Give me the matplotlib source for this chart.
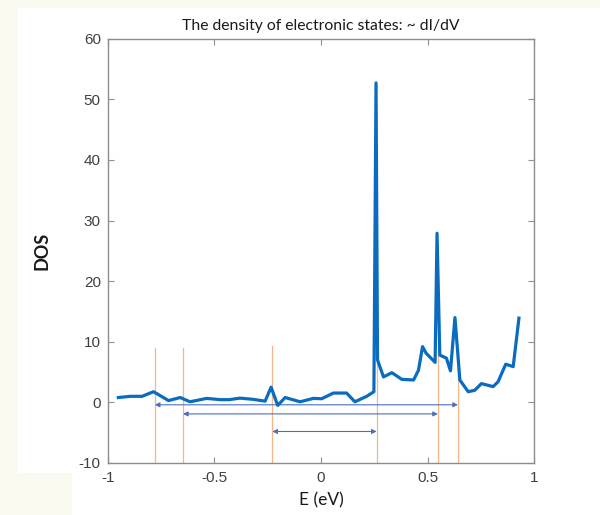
import numpy as np
import matplotlib
matplotlib.use('Agg')
import matplotlib.pyplot as plt
from matplotlib.patches import Rectangle

plt.rcParams['axes.unicode_minus'] = False

# DOS curve (energy in eV, density of states)
energy = [-0.950, -0.894, -0.839, -0.785, -0.715, -0.660, -0.614, -0.536, -0.473, -0.430,
          -0.380, -0.317, -0.262, -0.234, -0.203, -0.168, -0.098, -0.036, 0.003, 0.058,
          0.120, 0.159, 0.214, 0.248, 0.258, 0.265, 0.293, 0.332, 0.379, 0.434,
          0.457, 0.476, 0.493, 0.535, 0.544, 0.557, 0.588, 0.607, 0.628, 0.651,
          0.690, 0.721, 0.752, 0.807, 0.830, 0.866, 0.901, 0.928]
dos = [0.8, 1.0, 1.0, 1.76, 0.3, 0.8, 0.1, 0.66, 0.45, 0.45,
       0.7, 0.5, 0.2, 2.5, -0.5, 0.8, 0.1, 0.66, 0.6, 1.54,
       1.54, 0.1, 1.0, 1.76, 52.7, 7.0, 4.2, 4.9, 3.8, 3.7,
       5.3, 9.2, 8.1, 6.6, 27.9, 7.8, 7.3, 5.2, 14.0, 3.7,
       1.76, 2.0, 3.1, 2.6, 3.4, 6.3, 5.9, 13.9]

# orange markers at the peak energies, and gap arrows between them
marker_e = [-0.779, -0.647, -0.228, 0.261, 0.548, 0.642]
marker_top = [9.0, 9.0, 9.3, 9.0, 9.0, 9.0]
gap_left = [-0.779, -0.647, -0.228]
gap_right = [0.642, 0.548, 0.261]
gap_y = [-0.4, -1.9, -4.8]

fig = plt.figure(figsize=(6, 5.15), dpi=100, facecolor='#fbfaf0')
# white panel behind the plot
fig.patches.append(Rectangle((18/600, 42/515), 1, 465/515, transform=fig.transFigure,
                             facecolor='white', edgecolor='none', zorder=-1))
fig.patches.append(Rectangle((72/600, 0), 1, 43/515, transform=fig.transFigure,
                             facecolor='white', edgecolor='none', zorder=-1))

ax = fig.add_axes([107.7/600, 1 - 463/515, 426.6/600, 424.3/515])

for e, t in zip(marker_e, marker_top):
    ax.plot([e, e], [-10, t], color='#f5b48c', lw=0.9, zorder=1)

for l, r, y in zip(gap_left, gap_right, gap_y):
    ax.annotate('', xy=(r, y), xytext=(l, y),
                arrowprops=dict(arrowstyle='<|-|>', color='#4a6fc0', lw=0.8,
                                mutation_scale=7, shrinkA=0, shrinkB=0))

ax.plot(energy, dos, color='#0a6cc0', lw=2.3, zorder=3, solid_joinstyle='round')

ax.set_xlim(-1, 1)
ax.set_ylim(-10, 60)
ax.set_xticks([-1, -0.5, 0, 0.5, 1])
ax.set_xticklabels(['-1', '-0.5', '0', '0.5', '1'])
ax.set_yticks(np.arange(-10, 61, 10))
ax.tick_params(direction='in', top=True, right=True, length=4, width=0.8,
               colors='#909090', labelcolor='#404040', labelsize=11)
ax.tick_params(axis='x', pad=6)
ax.tick_params(axis='y', pad=5)
for lab in ax.get_xticklabels() + ax.get_yticklabels():
    lab.set_family('Liberation Sans')
for s in ax.spines.values():
    s.set_color('#8c8c8c')
    s.set_linewidth(1.0)

ax.set_title('The density of electronic states: ~ dI/dV', fontsize=11.3,
             family='Lato', color='#1a1a1a', pad=6)
ax.set_xlabel('E (eV)', fontsize=12.5, family='Lato', color='#1a1a1a', labelpad=5)
ax.set_ylabel('DOS', fontsize=13, family='Lato', fontweight='bold', color='#1a1a1a', labelpad=20)

plt.savefig('out.png', dpi=100, facecolor=fig.get_facecolor())
